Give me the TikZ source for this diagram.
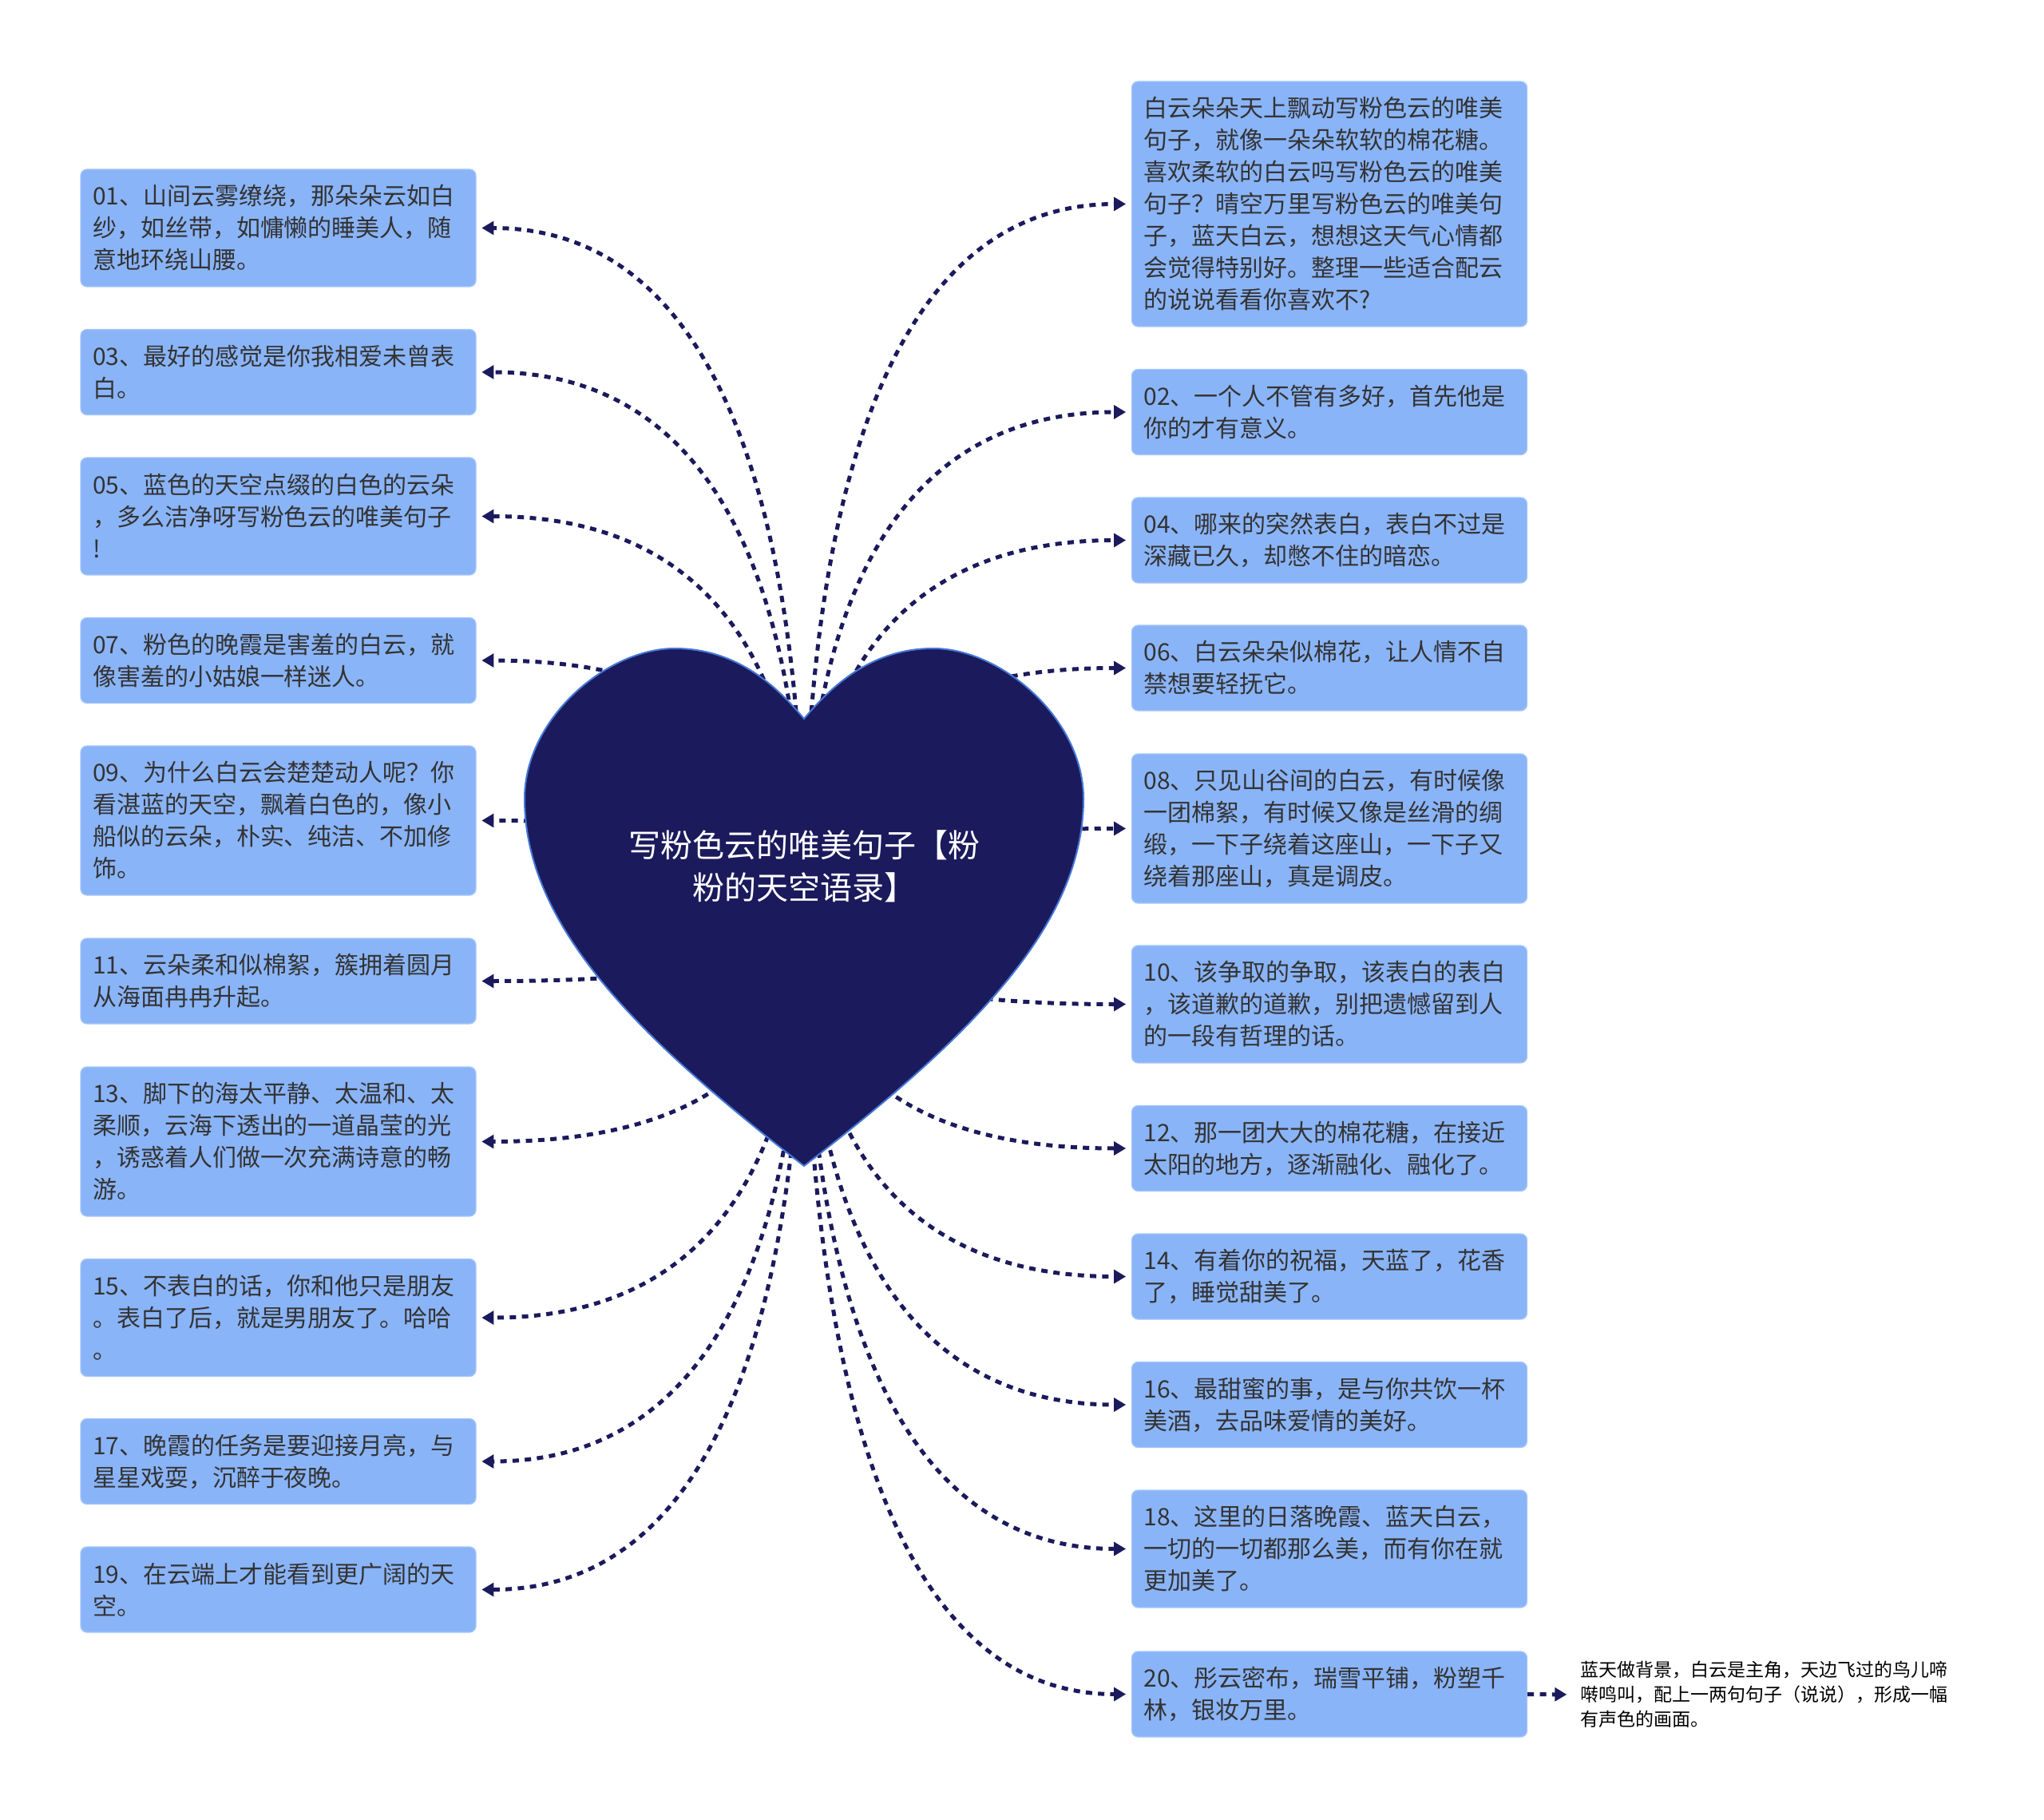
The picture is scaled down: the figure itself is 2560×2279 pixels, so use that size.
\documentclass[tikz,border=0pt]{standalone}
\usepackage{fontspec}
\setmainfont{Noto Sans CJK SC}
\usetikzlibrary{arrows.meta,calc}
\definecolor{navy}{RGB}{27,26,92}
\definecolor{boxblue}{RGB}{138,180,248}
\definecolor{boxline}{RGB}{165,198,250}
\definecolor{heartline}{RGB}{70,120,215}
\definecolor{txt}{RGB}{51,51,51}
\newcommand\heartlink[1]{\draw[conn] (hc) .. controls ($(hc)!0.6667!(hc |- #1)$) and ($(#1)!0.6667!(hc |- #1)$) .. (#1);}
\begin{document}
\begin{tikzpicture}[x=0.3pt,y=-0.3pt,
  leaf/.style={draw=boxline, line width=0.4pt, fill=boxblue, rounded corners=2.4pt,
    text width=139.5pt, inner xsep=4.5pt, inner ysep=0pt, align=left, text=txt,
    font=\fontsize{9pt}{12pt}\selectfont},
  l2/.style={minimum height=32.1pt},
  l3/.style={minimum height=44.1pt},
  l4/.style={minimum height=56.1pt},
  l7/.style={minimum height=92.1pt},
  conn/.style={draw=navy, line width=1.5pt, dash pattern=on 2.4pt off 2.2pt,
    -{Triangle[length=4.5pt,width=5pt]}, shorten >=2pt},
]
\fill[white] (0,0) rectangle (2560,2279);
\useasboundingbox (0,0) rectangle (2560,2279);

% left column
\node[leaf,l3] (b01) at (348.5,285.5) {01、山间云雾缭绕，那朵朵云如白\\纱，如丝带，如慵懒的睡美人，随\\意地环绕山腰。};
\node[leaf,l2] (b03) at (348.5,466) {03、最好的感觉是你我相爱未曾表\\白。};
\node[leaf,l3] (b05) at (348.5,646.5) {05、蓝色的天空点缀的白色的云朵\\，多么洁净呀写粉色云的唯美句子\\!};
\node[leaf,l2] (b07) at (348.5,827) {07、粉色的晚霞是害羞的白云，就\\像害羞的小姑娘一样迷人。};
\node[leaf,l4] (b09) at (348.5,1027.5) {09、为什么白云会楚楚动人呢？你\\看湛蓝的天空，飘着白色的，像小\\船似的云朵，朴实、纯洁、不加修\\饰。};
\node[leaf,l2] (b11) at (348.5,1228.5) {11、云朵柔和似棉絮，簇拥着圆月\\从海面冉冉升起。};
\node[leaf,l4] (b13) at (348.5,1429.5) {13、脚下的海太平静、太温和、太\\柔顺，云海下透出的一道晶莹的光\\，诱惑着人们做一次充满诗意的畅\\游。};
\node[leaf,l3] (b15) at (348.5,1650) {15、不表白的话，你和他只是朋友\\。表白了后，就是男朋友了。哈哈\\。};
\node[leaf,l2] (b17) at (348.5,1830) {17、晚霞的任务是要迎接月亮，与\\星星戏耍，沉醉于夜晚。};
\node[leaf,l2] (b19) at (348.5,1990.5) {19、在云端上才能看到更广阔的天\\空。};

% right column
\node[leaf,l7] (b00) at (1665,255.5) {白云朵朵天上飘动写粉色云的唯美\\句子，就像一朵朵软软的棉花糖。\\喜欢柔软的白云吗写粉色云的唯美\\句子？晴空万里写粉色云的唯美句\\子，蓝天白云，想想这天气心情都\\会觉得特别好。整理一些适合配云\\的说说看看你喜欢不?};
\node[leaf,l2] (b02) at (1665,516) {02、一个人不管有多好，首先他是\\你的才有意义。};
\node[leaf,l2] (b04) at (1665,676.5) {04、哪来的突然表白，表白不过是\\深藏已久，却憋不住的暗恋。};
\node[leaf,l2] (b06) at (1665,836.5) {06、白云朵朵似棉花，让人情不自\\禁想要轻抚它。};
\node[leaf,l4] (b08) at (1665,1037.5) {08、只见山谷间的白云，有时候像\\一团棉絮，有时候又像是丝滑的绸\\缎，一下子绕着这座山，一下子又\\绕着那座山，真是调皮。};
\node[leaf,l3] (b10) at (1665,1257.5) {10、该争取的争取，该表白的表白\\，该道歉的道歉，别把遗憾留到人\\的一段有哲理的话。};
\node[leaf,l2] (b12) at (1665,1438) {12、那一团大大的棉花糖，在接近\\太阳的地方，逐渐融化、融化了。};
\node[leaf,l2] (b14) at (1665,1598.5) {14、有着你的祝福，天蓝了，花香\\了，睡觉甜美了。};
\node[leaf,l2] (b16) at (1665,1759) {16、最甜蜜的事，是与你共饮一杯\\美酒，去品味爱情的美好。};
\node[leaf,l3] (b18) at (1665,1939.5) {18、这里的日落晚霞、蓝天白云，\\一切的一切都那么美，而有你在就\\更加美了。};
\node[leaf,l2] (b20) at (1665,2121.5) {20、彤云密布，瑞雪平铺，粉塑千\\林，银妆万里。};

\node[anchor=west, inner sep=0pt, align=left, text width=142pt, text=black,
  font=\fontsize{6.9pt}{9.3pt}\selectfont] (note) at (1979,2122)
  {蓝天做背景，白云是主角，天边飞过的鸟儿啼\\啭鸣叫，配上一两句句子（说说），形成一幅\\有声色的画面。};

% connectors (behind the heart)
\coordinate (hc) at (1007,1136);
\foreach \b in {b01,b03,b05,b07,b09,b11,b13,b15,b17,b19}{\heartlink{\b.east}}
\foreach \b in {b00,b02,b04,b06,b08,b10,b12,b14,b16,b18,b20}{\heartlink{\b.west}}
\draw[conn, shorten >=5pt] (b20.east) -- (note.west);

% heart
\path[fill=navy, draw=heartline, line width=0.6pt]
  (1007,900) .. controls (975,862) and (925,812) .. (845,812)
  .. controls (760,812) and (657,900) .. (657,1000)
  .. controls (657,1160) and (800,1300) .. (1007,1460)
  .. controls (1214,1300) and (1357,1160) .. (1357,1000)
  .. controls (1357,900) and (1254,812) .. (1169,812)
  .. controls (1089,812) and (1039,862) .. (1007,900) -- cycle;
\node[text=white, align=center, inner sep=0pt, font=\fontsize{12pt}{16pt}\selectfont] (title) at (1007,1085)
  {写粉色云的唯美句子【粉\\粉的天空语录】};
\end{tikzpicture}
\end{document}
